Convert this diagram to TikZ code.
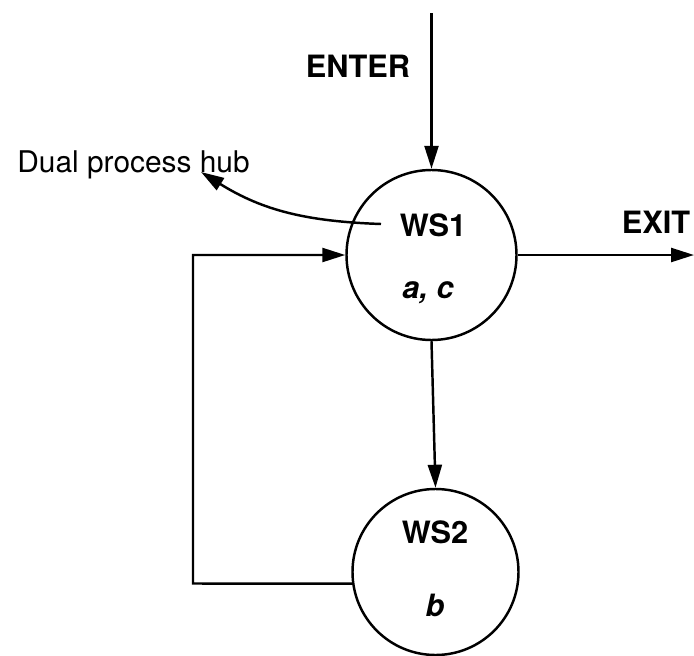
\documentclass[tikz,border=0pt]{standalone}
\usepackage{fontspec}
\setmainfont{TeX Gyre Heros}
\usetikzlibrary{arrows.meta}

\begin{document}
\begin{tikzpicture}[
    hub/.style={draw, circle, line width=1.4pt, minimum size=3.4cm, inner sep=0pt},
    flow/.style={line width=1.4pt, -{Triangle[length=0.46cm, width=0.28cm]}},
    tag/.style={font=\fontsize{17.5}{20}\selectfont\bfseries, anchor=base, inner sep=0pt},
    sublabel/.style={font=\fontsize{17.5}{20}\selectfont\bfseries\itshape, anchor=base, inner sep=0pt}
]
\useasboundingbox (0,0) rectangle (13.88,-13.10);

% Workstations
\node[hub] (ws1) at (8.63,-5.10) {};
\node[hub, minimum size=3.32cm] (ws2) at (8.71,-11.44) {};

% Texts inside the circles
\node[tag] (ws1name) at (8.66,-4.72) {WS1};
\node[sublabel] (ws1ops) at (8.56,-5.96) {a, c};
\node[tag] (ws2name) at (8.70,-10.86) {WS2};
\node[sublabel] (ws2ops) at (8.70,-12.32) {b};

% Outside labels
\node[tag] (enter) at (7.16,-1.54) {ENTER};
\node[tag] (exit) at (13.12,-4.66) {EXIT};
\node[font=\fontsize{17}{20}\selectfont, anchor=base west, inner sep=0pt] (hubnote) at (0.34,-3.44) {Dual process hub};

% Free ends
\coordinate (enterin) at (8.63,-0.26);
\coordinate (exitout) at (13.88,-5.10);
\coordinate (loopcorner) at (3.86,-11.67);
\coordinate (hubfrom) at (7.62,-4.48);
\coordinate (hubto) at (4.02,-3.44);

% Connectors
\draw[flow] (enterin) -- (ws1.north);
\draw[flow] (ws1.east) -- (exitout);
\draw[flow] (ws1.south) -- (ws2.north);
\draw[flow] (ws2.188) -- (loopcorner) |- (ws1.west);
\draw[flow] (hubfrom) to[out=178, in=-32] (hubto);

\end{tikzpicture}
\end{document}
